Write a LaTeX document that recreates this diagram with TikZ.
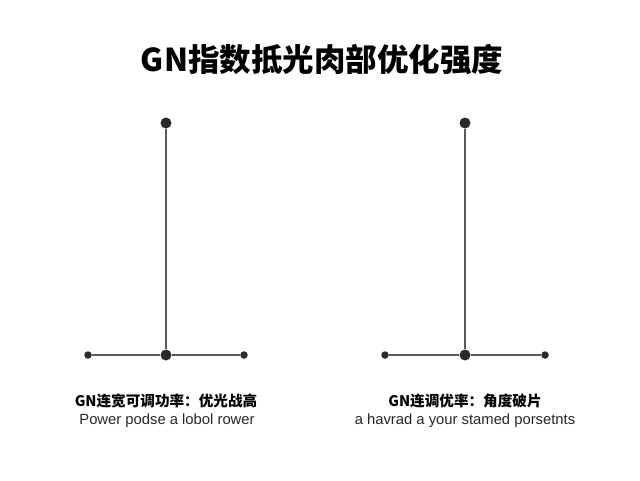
\documentclass[tikz,border=0pt]{standalone}
\usepackage{fontspec}
\setmainfont{Liberation Sans}
\newfontfamily\cjk{Noto Sans CJK SC}
\usetikzlibrary{positioning}
\definecolor{stem}{HTML}{5A5A5A}
\definecolor{knob}{HTML}{2A2A2A}
\tikzset{
    stem-line/.style = {draw=stem, line width=2.6pt},
    arm-line/.style = {draw=stem, line width=2.2pt},
    big-dot/.style = {circle, fill=knob, inner sep=0pt, minimum size=11pt},
    small-dot/.style = {circle, fill=knob, inner sep=0pt, minimum size=7.5pt},
    head-label/.style = {font=\cjk\bfseries\fontsize{14.6}{17}\selectfont},
    sub-label/.style = {font=\fontsize{14.8}{17}\selectfont, text=black!85},
}
\begin{document}
\begin{tikzpicture}[x=1pt,y=-1pt]
\useasboundingbox (0,0) rectangle (640,480);
\node[font=\cjk\bfseries\fontsize{31.5}{36}\selectfont] (title) at (322,60) {GN指数抵光肉部优化强度};
% left tee
\node[big-dot] (ltop) at (166,123) {};
\node[big-dot] (lmid) at (166,355) {};
\node[small-dot] (lleft) at (88,355) {};
\node[small-dot] (lright) at (244,355) {};
\draw[stem-line] (ltop) -- (lmid);
\draw[arm-line] (lleft) -- (lmid) -- (lright);
\node[head-label] (lhead) at (166,401) {GN连宽可调功率：优光战高};
\node[sub-label] (lsub) at (167,421) {Power podse a lobol rower};
% right tee
\node[big-dot] (rtop) at (465,123) {};
\node[big-dot] (rmid) at (465,355) {};
\node[small-dot] (rleft) at (385,355) {};
\node[small-dot] (rright) at (545,355) {};
\draw[stem-line] (rtop) -- (rmid);
\draw[arm-line] (rleft) -- (rmid) -- (rright);
\node[head-label] (rhead) at (465,401) {GN连调优率：角度破片};
\node[sub-label] (rsub) at (465,421) {a havrad a your stamed porsetnts};
\end{tikzpicture}
\end{document}
